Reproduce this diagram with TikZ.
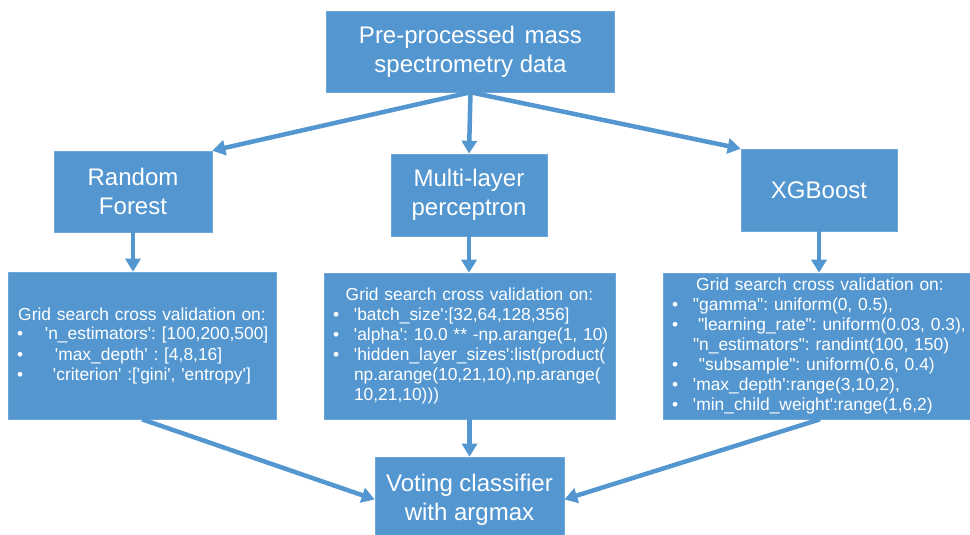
\documentclass[tikz,border=0pt]{standalone}
\usepackage{fontspec}
\setmainfont{Liberation Sans}[Ligatures=TeXOff]
\usepackage{xcolor}
\usetikzlibrary{arrows.meta, positioning}
\definecolor{boxblue}{RGB}{84,151,208}
\frenchspacing

% Zeilen fuer die Grid-Search-Kaesten
\newcommand{\gridtitle}[1]{\hbox to \hsize{\hss #1\hss}}
\newcommand{\gitem}[2][0pt]{\makebox[21pt][l]{\textbullet}\hspace*{#1}\mbox{#2}}
\newcommand{\gcont}[1]{\hspace*{21pt}\mbox{#1}}

\begin{document}
\begin{tikzpicture}[
    x=1pt, y=-1pt,
    box/.style={
        rectangle, fill=boxblue, draw=boxblue!85!white, line width=0.6pt,
        text=white, align=center, inner sep=0pt, font=\fontsize{24}{29}\selectfont
    },
    gridbox/.style={
        box, align=left, font=\fontsize{17.4}{20}\selectfont
    },
    flow/.style={
        draw=boxblue, line width=4.5pt, -{Triangle[length=13pt, width=15pt]}
    }
]
\useasboundingbox (0,0) rectangle (970,535);

% --- OBEN ---
\node[box, minimum width=288pt, minimum height=81pt] (data) at (470.5,51.5)
    {Pre-processed\hspace{0.4em}mass\\spectrometry data};

% --- MODELLE ---
\node[box, minimum width=158pt, minimum height=81pt] (rf) at (133,191.5) {Random\\Forest};
\node[box, minimum width=156pt, minimum height=82pt] (mlp) at (469,195) {Multi-layer\\perceptron};
\node[box, minimum width=156pt, minimum height=82pt] (xgb) at (819,190) {XGBoost};

% --- GRID SEARCH ---
\node[gridbox, minimum width=268pt, minimum height=147pt, text width=250pt] (gridrf) at (142,345.5) {%
    \gridtitle{Grid search cross validation on:}\\
    \gitem[7pt]{'n\_estimators': [100,200,500]}\\
    \gitem[17pt]{'max\_depth' : [4,8,16]}\\
    \gitem[15pt]{'criterion' :['gini', 'entropy']}};

\node[gridbox, minimum width=291pt, minimum height=146pt, text width=273pt] (gridmlp) at (469.5,346) {%
    \gridtitle{Grid search cross validation on:}\\
    \gitem{'batch\_size':[32,64,128,356]}\\
    \gitem{'alpha': 10.0 ** -np.arange(1, 10)}\\
    \gitem{'hidden\_layer\_sizes':list(product(}\\
    \gcont{np.arange(10,21,10),np.arange(}\\
    \gcont{10,21,10)))}};

\node[gridbox, minimum width=314pt, minimum height=146pt, text width=296pt] (gridxgb) at (820,346) {%
    \gridtitle{Grid search cross validation on:}\\
    \gitem{"gamma": uniform(0, 0.5),}\\
    \gitem[5pt]{"learning\_rate": uniform(0.03, 0.3),}\\
    \gcont{"n\_estimators": randint(100, 150)}\\
    \gitem[6pt]{"subsample": uniform(0.6, 0.4)}\\
    \gitem{'max\_depth':range(3,10,2),}\\
    \gitem{'min\_child\_weight':range(1,6,2)}};

% --- ERGEBNIS ---
\node[box, minimum width=189pt, minimum height=85pt] (vote) at (469.5,499.5)
    {Voting classifier\\with argmax};

% --- PFEILE ---
\draw[flow] (data.south) -- (rf.north east);
\draw[flow] (data.south) -- (mlp.north);
\draw[flow] (data.south) -- (xgb.north west);

\draw[flow] (rf.south) -- (rf.south |- gridrf.north);
\draw[flow] (mlp.south) -- (mlp.south |- gridmlp.north);
\draw[flow] (xgb.south) -- (xgb.south |- gridxgb.north);

\draw[flow] (gridrf.south) -- (vote.west);
\draw[flow] (gridmlp.south) -- (vote.north);
\draw[flow] (gridxgb.south) -- (vote.east);
\end{tikzpicture}
\end{document}
